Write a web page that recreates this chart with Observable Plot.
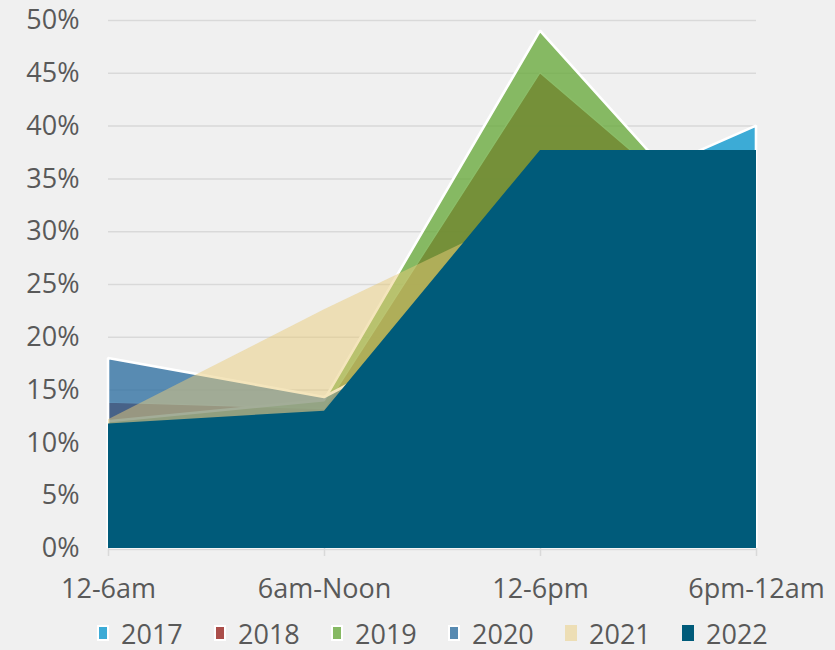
<!DOCTYPE html>
<html>
<head>
<meta charset="utf-8">
<script src="https://cdn.jsdelivr.net/npm/d3@7"></script>
<script src="https://cdn.jsdelivr.net/npm/@observablehq/plot@0.6"></script>
<style>
  html, body { margin: 0; padding: 0; background: #f0f0f0; }
  #chart svg { display: block; }
  #legend {
    display: flex; align-items: center; height: 38px; padding-top: 2px;
    padding-left: 97px; font-family: "Open Sans", sans-serif; font-size: 27px; color: #595959;
  }
  .item { display: flex; align-items: center; width: 117px; flex: none; }
  .sw { width: 12px; height: 16px; box-sizing: border-box; margin-right: 12px; position: relative; }
  .sw span { position: absolute; inset: 0; }
</style>
</head>
<body>
<div id="chart"></div>
<div id="legend"></div>
<script>
const categories = ["12-6am", "6am-Noon", "12-6pm", "6pm-12am"];
const years = ["2017", "2018", "2019", "2020", "2021", "2022"];
const s2017 = [0.100, 0.110, 0.310, 0.400];
const s2018 = [0.138, 0.132, 0.450, 0.275];
const s2019 = [0.120, 0.140, 0.490, 0.263];
const s2020 = [0.180, 0.143, 0.250, 0.300];
const s2021 = [0.122, 0.226, 0.324, 0.300];
const s2022 = [0.118, 0.130, 0.377, 0.377];
const yTicks = [0, 0.05, 0.10, 0.15, 0.20, 0.25, 0.30, 0.35, 0.40, 0.45, 0.50];

const seriesValues = [s2017, s2018, s2019, s2020, s2021, s2022];
const colors   = ["#0094cd", "#9a2520", "#63a734", "#25699d", "#eacc7a", "#005b7a"];
const opacity  = [0.75, 0.8, 0.75, 0.75, 0.5, 1];
const outlined = [true, true, true, true, false, false];

const series = years.map((y, i) => ({
  year: y,
  data: categories.map((c, j) => ({cat: c, v: seriesValues[i][j]}))
}));

const areaMarks = series.map((s, i) => Plot.areaY(s.data, {
  x: "cat", y: "v",
  fill: colors[i], fillOpacity: opacity[i],
  stroke: outlined[i] ? "white" : "none",
  strokeWidth: i === 1 ? 1.2 : 2.6,
  strokeLinejoin: "miter",
  curve: "linear"
}));

const plot = Plot.plot({
  width: 835,
  height: 612,
  marginTop: 20,
  marginBottom: 64,
  marginLeft: 108,
  marginRight: 79,
  style: {fontFamily: "Open Sans, sans-serif", fontSize: "27px", color: "#595959", background: "#f0f0f0"},
  x: {type: "point", domain: categories, padding: 0},
  y: {domain: [0, 0.5]},
  marks: [
    Plot.gridY(yTicks.filter(t => t > 0), {stroke: "#d9d9d9", strokeOpacity: 1, strokeWidth: 1.5}),
    ...areaMarks,
    Plot.ruleY([0], {stroke: "#d9d9d9", strokeWidth: 1.5, dy: 1}),
    Plot.axisX({tickSize: 8, tickPadding: 22, stroke: "#d9d9d9", strokeWidth: 1.5, label: null, fill: "#595959"}),
    Plot.axisY({ticks: yTicks, tickSize: 0, tickPadding: 29, label: null, fill: "#595959",
      tickFormat: d => Math.round(d * 100) + "%"})
  ]
});
document.getElementById("chart").appendChild(plot);

const legend = document.getElementById("legend");
years.forEach((y, i) => {
  const item = document.createElement("div");
  item.className = "item";
  const sw = document.createElement("div");
  sw.className = "sw";
  sw.style.background = "#f0f0f0";
  const inner = document.createElement("span");
  inner.style.background = colors[i];
  inner.style.opacity = opacity[i];
  sw.appendChild(inner);
  if (outlined[i]) {
    const border = document.createElement("span");
    border.style.border = "2px solid white";
    sw.appendChild(border);
  }
  const label = document.createElement("span");
  label.textContent = y;
  item.appendChild(sw);
  item.appendChild(label);
  legend.appendChild(item);
});
</script>
</body>
</html>
